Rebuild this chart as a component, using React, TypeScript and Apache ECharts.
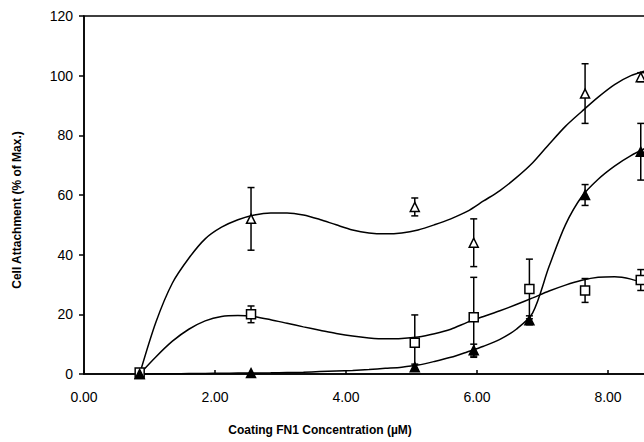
import React, { useEffect, useRef } from "react";
import * as echarts from "echarts";

// Measured points
const openTriX = [0.85, 2.55, 5.05, 5.95, 7.65, 8.5];
const openTriY = [0, 52, 56, 44, 94, 99.5];
const openTriErr = [0, 10.5, 3, 8, 10, 1.5];

const filledTriX = [0.85, 2.55, 5.05, 5.95, 6.8, 7.65, 8.5];
const filledTriY = [0, 0.3, 2.3, 8, 18, 60, 74.5];
const filledTriErr = [0, 0, 1, 2, 1.5, 3.5, 9.5];

const squareX = [0.85, 2.55, 5.05, 5.95, 6.8, 7.65, 8.5];
const squareY = [0.5, 20, 10.5, 19, 28.5, 28, 31.5];
const squareErr = [0, 2.8, 9.3, 13.4, 10, 4, 3.5];

const curveX = [0.85, 1.1, 1.35, 1.6, 1.85, 2.1, 2.35, 2.6, 2.85, 3.1, 3.35, 3.6, 3.85, 4.1, 4.35, 4.6, 4.85, 5.1, 5.35, 5.6, 5.85, 6.1, 6.35, 6.6, 6.85, 7.1, 7.35, 7.6, 7.85, 8.1, 8.35, 8.6];
const curveOpenY = [0, 17.5, 30.5, 38.8, 45.3, 49.2, 51.7, 53.3, 54, 54, 53.3, 51.8, 50, 48.3, 47.3, 47, 47.3, 48.3, 50, 52, 54.5, 58, 61.5, 65.8, 70.8, 77, 83, 88, 92.8, 97, 100, 101.8];
const curveSquareY = [0, 5.8, 11, 15, 17.8, 19.3, 19.6, 19.2, 18.2, 17, 15.8, 14.7, 13.6, 12.7, 12.1, 11.8, 11.9, 12.4, 13.5, 15, 17.3, 19.3, 21.2, 23.3, 25.5, 27.8, 29.8, 31.4, 32.4, 32.6, 31.8, 30];
const curveFilledY = [0, 0.05, 0.1, 0.15, 0.2, 0.25, 0.3, 0.35, 0.4, 0.5, 0.6, 0.8, 1, 1.2, 1.5, 1.9, 2.3, 3, 4.2, 5.6, 7.4, 9.3, 11.6, 15, 20.5, 36, 50, 59.5, 65.3, 69.7, 73.2, 76];

const xTicks = [0, 2, 4, 6, 8, 10];
const yTicks = [0, 20, 40, 60, 80, 100, 120];

const FONT = "'Liberation Sans', Arial, Helvetica, sans-serif";

function zip(xs: number[], ys: number[], es?: number[]) {
  return xs.map((x, i) => (es ? [x, ys[i], es[i]] : [x, ys[i]]));
}

function errRender(params: any, api: any) {
  const x = api.value(0);
  const y = api.value(1);
  const e = api.value(2);
  if (!e) return null;
  const top = api.coord([x, y + e]);
  const bot = api.coord([x, y - e]);
  const cw = 3.5;
  const style = { stroke: "#000", lineWidth: 1.5 };
  return {
    type: "group",
    children: [
      { type: "line", shape: { x1: top[0], y1: top[1], x2: bot[0], y2: bot[1] }, style },
      { type: "line", shape: { x1: top[0] - cw, y1: top[1], x2: top[0] + cw, y2: top[1] }, style },
      { type: "line", shape: { x1: bot[0] - cw, y1: bot[1], x2: bot[0] + cw, y2: bot[1] }, style },
    ],
  };
}

export default function App() {
  const ref = useRef<HTMLDivElement>(null);
  useEffect(() => {
    if (!ref.current) return;
    const chart = echarts.init(ref.current, null, { renderer: "svg" });
    const lineStyle = { color: "#000", width: 1.5 };
    const curve = (xs: number[], ys: number[]) => ({
      type: "line",
      data: zip(xs, ys),
      smooth: 0.3,
      showSymbol: false,
      symbol: "none",
      lineStyle,
      z: 2,
      silent: true,
    });
    const errs = (xs: number[], ys: number[], es: number[]) => ({
      type: "custom",
      renderItem: errRender,
      data: zip(xs, ys, es),
      z: 3,
      silent: true,
    });
    const pts = (xs: number[], ys: number[], symbol: string, fill: string, size: number) => ({
      type: "scatter",
      data: zip(xs, ys),
      symbol,
      symbolSize: size,
      itemStyle: { color: fill, borderColor: "#000", borderWidth: 1.5, opacity: 1 },
      z: 4,
      silent: true,
    });
    chart.setOption({
      animation: false,
      backgroundColor: "#fff",
      grid: {
        left: 84,
        top: 16,
        width: 655,
        height: 358,
        outerBoundsMode: "none",
        containLabel: false,
        show: true,
        borderColor: "#000",
        borderWidth: 1.5,
      },
      xAxis: {
        type: "value",
        min: xTicks[0],
        max: xTicks[xTicks.length - 1],
        interval: 2,
        axisLine: { show: true, lineStyle: { color: "#000", width: 1.5 } },
        axisTick: { show: true, inside: true, length: 4, lineStyle: { color: "#000", width: 1.5 } },
        axisLabel: {
          color: "#000",
          fontFamily: FONT,
          fontSize: 14,
          margin: 16,
          formatter: (v: number) => (v >= 10 ? "" : v.toFixed(2)),
        },
        splitLine: { show: false },
      },
      yAxis: {
        type: "value",
        min: yTicks[0],
        max: yTicks[yTicks.length - 1],
        interval: 20,
        axisLine: { show: true, lineStyle: { color: "#000", width: 1.5 } },
        axisTick: { show: true, inside: false, length: 5, lineStyle: { color: "#000", width: 1.5 } },
        axisLabel: { color: "#000", fontFamily: FONT, fontSize: 14, margin: 11 },
        splitLine: { show: false },
      },
      graphic: [
        {
          type: "text",
          x: 17,
          y: 210,
          rotation: Math.PI / 2,
          style: {
            text: "Cell Attachment (% of Max.)",
            font: `bold 12px ${FONT}`,
            fill: "#000",
            align: "center",
            verticalAlign: "middle",
          },
        },
        {
          type: "text",
          x: 320,
          y: 430,
          style: {
            text: "Coating FN1 Concentration (\u00b5M)",
            font: `bold 12px ${FONT}`,
            fill: "#000",
            align: "center",
            verticalAlign: "middle",
          },
        },
      ],
      series: [
        curve(curveX, curveOpenY),
        curve(curveX, curveSquareY),
        curve(curveX, curveFilledY),
        errs(openTriX, openTriY, openTriErr),
        errs(filledTriX, filledTriY, filledTriErr),
        errs(squareX, squareY, squareErr),
        pts(openTriX, openTriY, "triangle", "#fff", 9),
        pts(squareX, squareY, "rect", "#fff", 9),
        pts(filledTriX, filledTriY, "triangle", "#000", 9),
      ],
    });
    return () => chart.dispose();
  }, []);
  return (
    <div
      ref={ref}
      style={{ position: "absolute", left: 0, top: 0, width: 644, height: 442, overflow: "hidden", background: "#fff" }}
    />
  );
}
